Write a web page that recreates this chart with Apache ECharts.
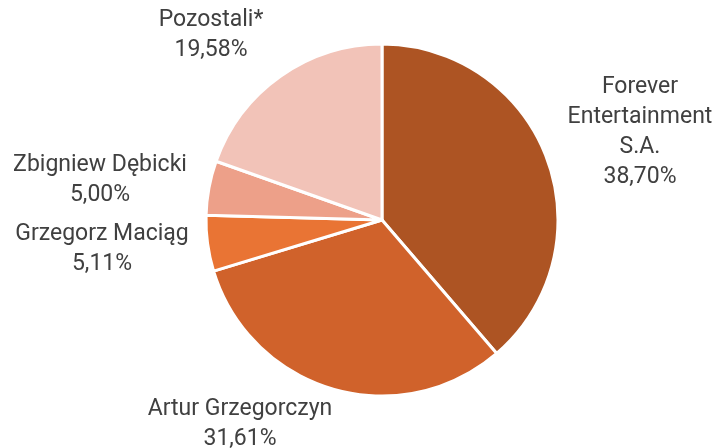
<!DOCTYPE html>
<html>
<head>
<meta charset="utf-8">
<script src="https://cdn.jsdelivr.net/npm/echarts@6/dist/echarts.min.js"></script>
<style>
    html,body{margin:0;padding:0;background:#ffffff;}
    #chart{width:718px;height:448px;}
</style>
</head>
<body>
<div id="chart"></div>
<script>
    // dane
    const names=['Forever\nEntertainment\nS.A.','Artur Grzegorczyn','Grzegorz Maciąg','Zbigniew Dębicki','Pozostali*']
    const values=[38.70,31.61,5.11,5.00,19.58]
    const colors=['#AD5423','#D0622B','#E97434','#EDA089','#F2C3B8']
    // środki etykiet (px)
    const labelPos=[[640,132],[240,424],[102,249],[100,180],[211,35]]

    const chart=echarts.init(document.getElementById('chart'))
    chart.setOption({
        animation:false,
        series:[
            {
                type:'pie',
                center:[382,220],
                radius:176,
                startAngle:90,
                clockwise:true,
                data:names.map((n,i)=>({
                    name:n,
                    value:values[i],
                    itemStyle:{color:colors[i]}
                })),
                itemStyle:{
                    borderColor:'#ffffff',
                    borderWidth:3
                },
                label:{
                    show:true,
                    position:'outside',
                    formatter:p=>p.name+'\n'+p.value.toFixed(2).replace('.',',')+'%',
                    color:'#404040',
                    fontFamily:'Roboto',
                    fontSize:23,
                    lineHeight:30,
                    align:'center',
                    overflow:'none',
                    width:300
                },
                labelLine:{show:false},
                labelLayout:p=>({
                    x:labelPos[p.dataIndex][0],
                    y:labelPos[p.dataIndex][1],
                    align:'center',
                    verticalAlign:'middle'
                })
            }
        ]
    })
</script>
</body>
</html>
